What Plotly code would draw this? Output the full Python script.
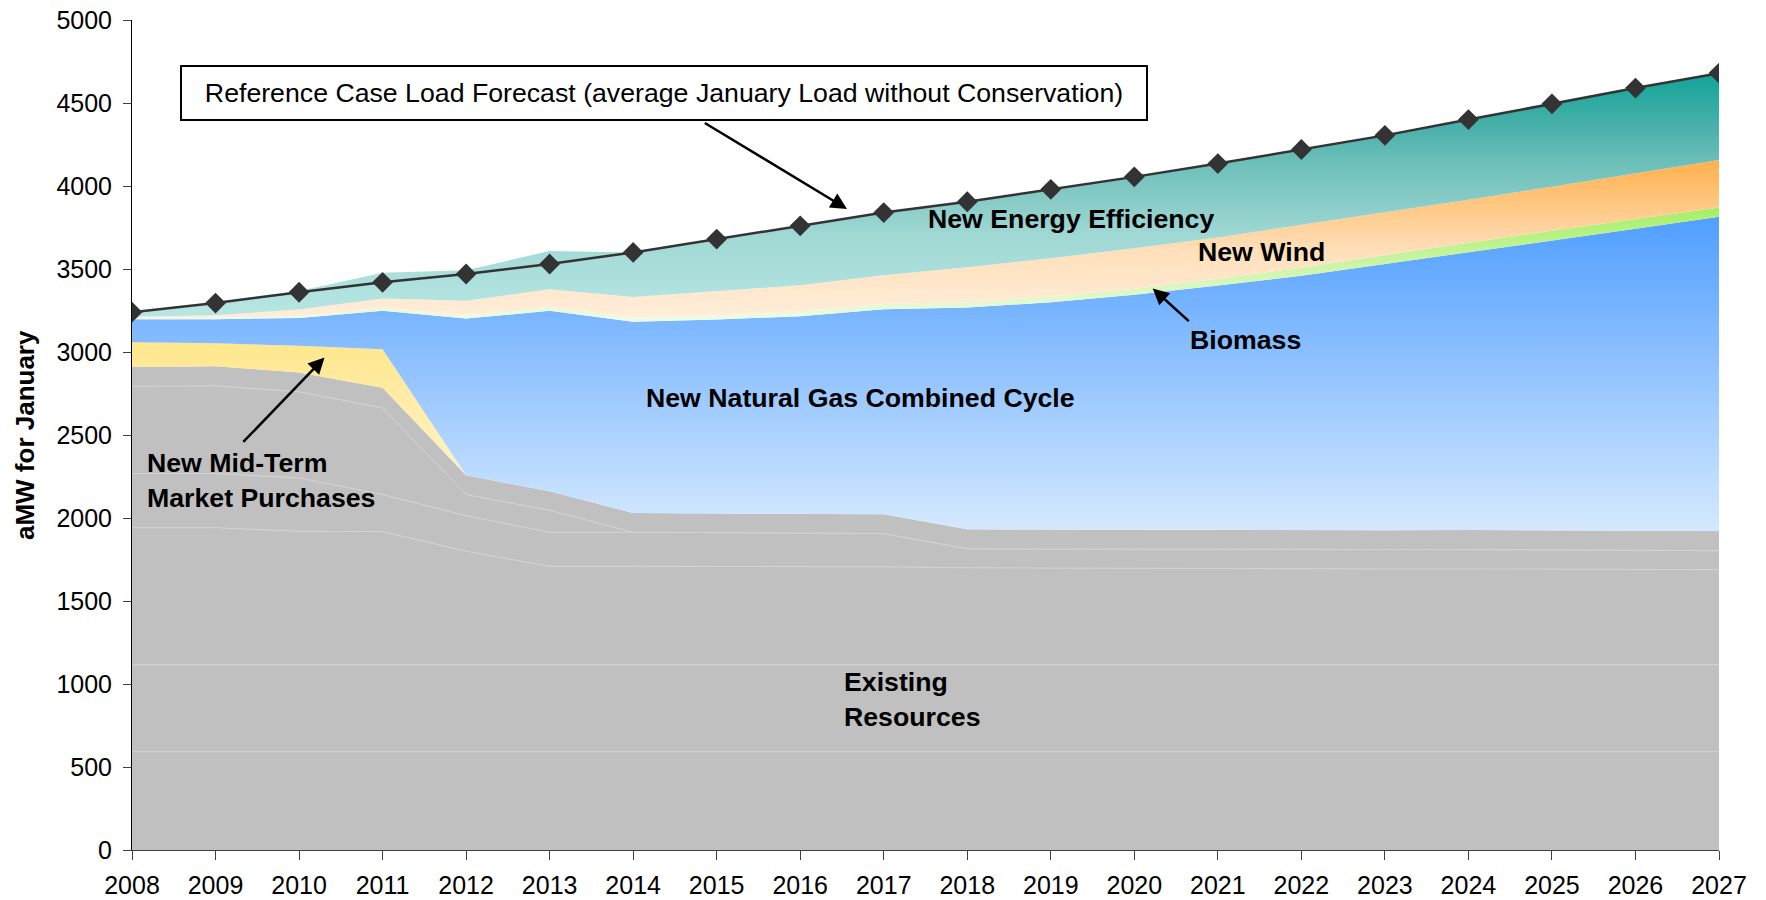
import plotly.graph_objects as go

years = list(range(2008, 2028))

# Existing resources, split into stacked bands (aMW)
existing_band_1 = [592, 592, 592, 592, 592, 592, 592, 592, 592, 592, 592, 592, 592, 592, 592, 592, 592, 592, 592, 592]
existing_band_2 = [524, 524, 524, 524, 524, 524, 524, 524, 524, 524, 524, 524, 524, 524, 524, 524, 524, 524, 524, 524]
existing_band_3 = [826, 826, 804, 802, 684, 593, 593, 593, 592, 590, 584, 582, 580, 579, 578, 577, 577, 576, 574, 573]
existing_band_4 = [326, 326, 321, 223, 214, 205, 205, 205, 202, 200, 115, 115, 117, 116, 115, 116, 117, 116, 116, 114]
existing_band_5 = [526, 528, 519, 522, 127, 132, 0, 0, 0, 0, 0, 0, 0, 0, 0, 0, 0, 0, 0, 0]
existing_band_6 = [116, 118, 117, 121, 117, 115, 116, 114, 114, 116, 117, 117, 117, 117, 117, 117, 118, 118, 118, 119]

market_purchases = [149, 139, 160, 233, 0, 0, 0, 0, 0, 0, 0, 0, 0, 0, 0, 0, 0, 0, 0, 0]
gas_combined_cycle = [139, 145, 168, 231, 944, 1087, 1152, 1168, 1192, 1236, 1336, 1370, 1415, 1472, 1534, 1604, 1672, 1746, 1818, 1893]
biomass = [6, 8, 10, 20, 20, 24, 26, 26, 30, 32, 32, 34, 36, 42, 48, 54, 58, 58, 58, 56]
wind = [8, 16, 41, 54, 86, 106, 124, 146, 156, 173, 210, 231, 244, 248, 257, 255, 259, 266, 276, 286]
energy_efficiency = [20, 80, 111, 155, 185, 230, 268, 312, 358, 377, 395, 415, 430, 445, 455, 466, 483, 499, 514, 521]

load_forecast = [3240, 3295, 3360, 3420, 3470, 3530, 3600, 3680, 3760, 3840, 3905, 3980, 4055, 4135, 4220, 4305, 4400, 4495, 4590, 4680]

y_ticks = [0, 500, 1000, 1500, 2000, 2500, 3000, 3500, 4000, 4500, 5000]

FONT = "Liberation Sans, Arial, sans-serif"
GRAY = "#C0C0C0"


def vgrad(stops):
    """Vertical fill gradient from (value, colour) stops along the y axis."""
    lo, hi = stops[0][0], stops[-1][0]
    scale = [[(v - lo) / (hi - lo), c] for v, c in stops]
    return dict(type="vertical", start=lo, stop=hi, colorscale=scale)


fig = go.Figure()

bands = [existing_band_1, existing_band_2, existing_band_3,
         existing_band_4, existing_band_5, existing_band_6]
for i, band in enumerate(bands):
    last = i == len(bands) - 1
    fig.add_trace(go.Scatter(
        x=years, y=band, stackgroup="supply", mode="lines",
        line=dict(width=0 if last else 1, color="#D2D2D2"),
        fillcolor=GRAY, hoverinfo="skip", showlegend=False,
    ))

layers = [
    (market_purchases, [(2200, "#FFF4CC"), (3060, "#FFE78C")]),
    (gas_combined_cycle, [(1950, "#D3E8FF"), (3850, "#4E9DFF")]),
    (biomass, [(3200, "#EEFBE4"), (3870, "#A5EE66")]),
    (wind, [(3200, "#FFEEDB"), (3600, "#FFE0BC"), (4160, "#FFB04C")]),
    (energy_efficiency, [(3250, "#B6E5E2"), (3700, "#A0D8D4"), (3915, "#88CBC6"),
                         (4160, "#6ABEB8"), (4320, "#50B2AC"), (4680, "#10A498")]),
]
for values, stops in layers:
    fig.add_trace(go.Scatter(
        x=years, y=values, stackgroup="supply", mode="lines",
        line=dict(width=0), fillgradient=vgrad(stops),
        hoverinfo="skip", showlegend=False,
    ))

fig.add_trace(go.Scatter(
    x=years, y=load_forecast, mode="lines+markers",
    line=dict(color="#333333", width=2.5),
    marker=dict(symbol="diamond", size=16, color="#333333"),
    showlegend=False,
))

bold = dict(family=FONT, size=26.7, color="black")


def label(text, x, y, **kw):
    fig.add_annotation(x=x, y=y, text=text, showarrow=False, font=bold, **kw)


def arrow(x0, y0, x1, y1):
    fig.add_annotation(x=x1, y=y1, ax=x0, ay=y0, axref="x", ayref="y",
                       text="", showarrow=True, arrowhead=2, arrowsize=1.3,
                       arrowwidth=2.5, arrowcolor="black")


label("<b>New Energy Efficiency</b>", 2019.24, 3804)
label("<b>New Wind</b>", 2021.52, 3600)
label("<b>Biomass</b>", 2021.33, 3071)
label("<b>New Natural Gas Combined Cycle</b>", 2016.72, 2724)
label("<b>New Mid-Term<br>Market Purchases</b>", 2008.16, 2223, xanchor="left", align="left")
label("<b>Existing<br>Resources</b>", 2016.50, 905, xanchor="left", align="left")

arrow(2009.315, 2449, 2010.305, 2967)
arrow(2020.67, 3178, 2020.22, 3383)
arrow(2014.84, 4385, 2016.56, 3862)

fig.add_annotation(
    x=2014.365, y=4560, showarrow=False,
    text="Reference Case Load Forecast (average January Load without Conservation)",
    font=dict(family=FONT, size=26.7, color="black"),
    bgcolor="white", bordercolor="black", borderwidth=2, borderpad=0,
    width=964, height=52,
)

fig.add_annotation(
    xref="paper", yref="paper", x=-0.0674, y=0.5, textangle=-90,
    xanchor="center", yanchor="middle",
    text="<b>aMW for January</b>", showarrow=False,
    font=dict(family=FONT, size=26, color="black"),
)

fig.update_layout(
    width=1766, height=900,
    margin=dict(l=132, r=47, t=20, b=50, autoexpand=False),
    paper_bgcolor="white", plot_bgcolor="white",
    font=dict(family=FONT, size=25, color="black"),
)
fig.update_xaxes(
    range=[2008, 2027], tickmode="array", tickvals=years,
    ticks="outside", ticklen=9, tickcolor="#404040", automargin=False,
    showgrid=False, zeroline=False, showline=True, linecolor="#404040",
    linewidth=1, ticklabelstandoff=4,
    tickfont=dict(family=FONT, size=25, color="black"),
)
fig.update_yaxes(
    range=[0, 5000], tickmode="array", tickvals=y_ticks,
    ticks="outside", ticklen=8, tickcolor="#404040", automargin=False,
    showgrid=False, zeroline=False, showline=True, linecolor="black",
    linewidth=1, ticklabelstandoff=6,
    tickfont=dict(family=FONT, size=25, color="black"),
)

fig.write_html("out.html")
